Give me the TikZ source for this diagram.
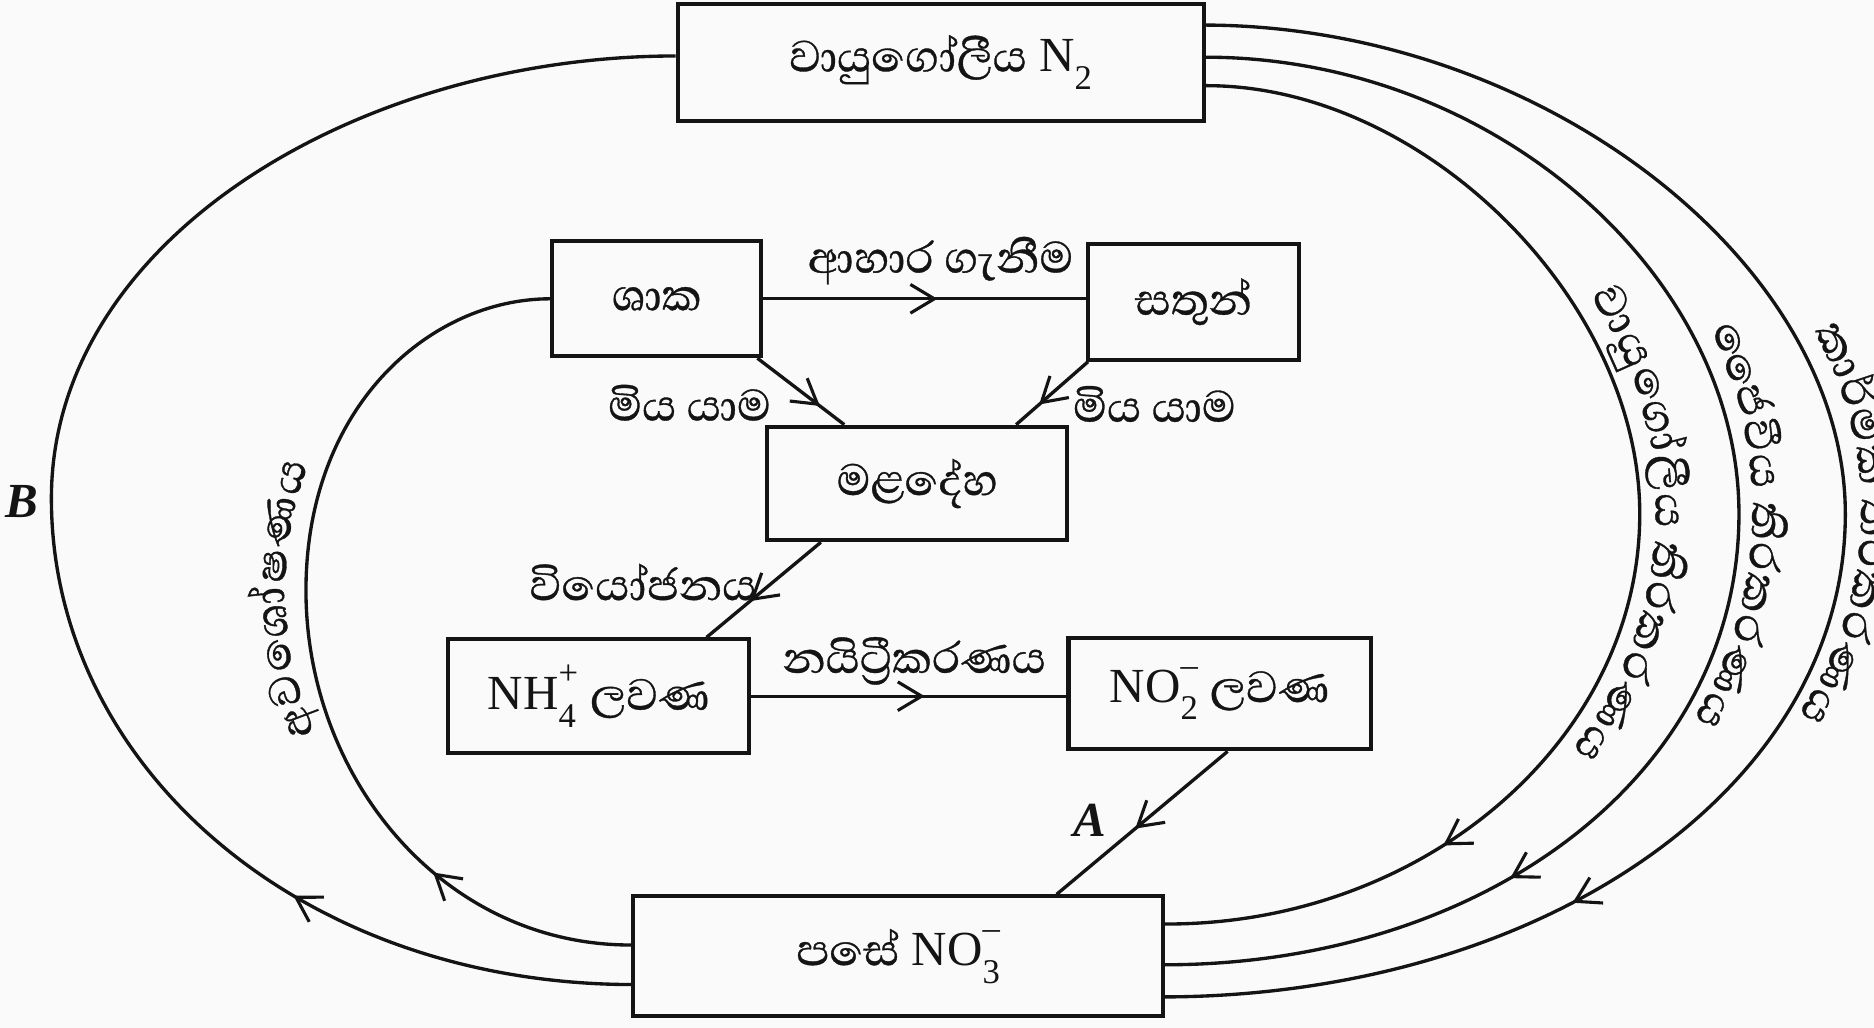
\documentclass[tikz,border=0pt]{standalone}
\usepackage{fontspec}
\setmainfont{Liberation Serif}
\newfontfamily\sinhalafont[Script=Sinhala, FakeBold=0.6]{Abhaya Libre}
\usetikzlibrary{arrows.meta,decorations.markings,calc}

% text sizes
\newcommand\latsize{\fontsize{41}{46}\selectfont}
\newcommand\sisize{\fontsize{47}{52}\selectfont}
\newcommand\si[1]{{\sinhalafont\sisize #1}}
\newcommand\idxsize{\fontsize{29}{29}\selectfont}
% subscript only, and subscript with a charge stacked above it
\newcommand\sub[1]{\raisebox{-0.36em}{\idxsize #1}}
\newcommand\ion[2]{\rlap{\raisebox{-0.36em}{\idxsize #1}}\raisebox{0.52em}{\idxsize #2}}

% Sinhala text set along a circle, one syllable per node
\newcommand\arcfont{\sinhalafont\sisize}
\newlength\arcgw
\newlength\arctw
\newcommand\arcwidth[1]{%
  \pgfinterruptpicture
  \if\relax\detokenize\expandafter{#1}\relax
    \settowidth{\arcgw}{\arcfont\ }%
  \else
    \settowidth{\arcgw}{\arcfont#1}%
    \advance\arcgw by 1.5pt
  \fi
  \global\arcgw=\arcgw
  \endpgfinterruptpicture}
% #1 name, #2 centre, #3 baseline radius, #4 middle angle, #5 syllables ({} = space)
\newcommand\arclabel[5]{%
  \global\arctw=0pt
  \foreach \g in {#5}{\arcwidth{\g}\global\advance\arctw by \arcgw}%
  \pgfmathsetmacro\arcstart{#4+(\arctw/2)/(#3)*180/pi}%
  \global\let\arccur\arcstart
  \foreach \g [count=\k] in {#5}{%
    \arcwidth{\g}%
    \pgfmathsetmacro\arcmid{\arccur-(\arcgw/2)/(#3)*180/pi}%
    \if\relax\detokenize\expandafter{\g}\relax\else
      \node[arcglyph, rotate=\arcmid-90] (#1-\k) at ($(#2)+(\arcmid:#3pt)$) {\g};
    \fi
    \pgfmathsetmacro\arcnext{\arccur-\arcgw/(#3)*180/pi}%
    \global\let\arccur\arcnext
  }%
}

\definecolor{ink}{RGB}{20,20,20}
\definecolor{paper}{RGB}{250,250,250}

\tikzset{
  box/.style={draw=ink, line width=3.4pt, inner sep=0pt, font=\latsize, text=ink},
  link/.style={draw=ink, line width=2.8pt},
  flowtip/.style={postaction={decorate, decoration={markings,
      mark=at position #1 with {\arrow[ink, line width=2.6pt]{Straight Barb[length=20pt,width=24pt]}}}}},
  lbl/.style={font=\latsize, inner sep=0pt, text=ink},
  arcglyph/.style={inner sep=0pt, anchor=base, font=\arcfont, text=ink},
}

\begin{document}
\begin{tikzpicture}[x=1pt, y=-1pt]
  \fill[paper] (0,0) rectangle (1568,860);
  \useasboundingbox (0,0) rectangle (1568,860);

  % boxes
  \node[box, minimum width=440pt, minimum height=98pt] (n2) at (787,52) {\si{වායුගෝලීය} N\sub{2}};
  \node[box, minimum width=175pt, minimum height=96pt] (shaka) at (549.5,250) {\si{ශාක}};
  \node[box, minimum width=177pt, minimum height=97pt] (sathun) at (998.5,252.5) {\si{සතුන්}};
  \node[box, minimum width=251pt, minimum height=95pt] (mal) at (767.5,404.5) {\si{මළදේහ}};
  \node[box, minimum width=252pt, minimum height=95pt] (nh4) at (501,582.5) {NH\ion{4}{+} \si{ලවණ}};
  \node[box, minimum width=253pt, minimum height=93pt] (no2) at (1020.5,580.5) {NO\ion{2}{--} \si{ලවණ}};
  \node[box, minimum width=443pt, minimum height=100pt] (no3) at (751.5,800) {\si{පසේ} NO\ion{3}{--}};

  % end points of the long loops on the box sides
  \coordinate (r1s) at ($(n2.north east)!0.694!(n2.south east)$);
  \coordinate (r2s) at ($(n2.north east)!0.459!(n2.south east)$);
  \coordinate (r3s) at ($(n2.north east)!0.194!(n2.south east)$);
  \coordinate (r1e) at ($(no3.north east)!0.24!(no3.south east)$);
  \coordinate (r2e) at ($(no3.north east)!0.57!(no3.south east)$);
  \coordinate (r3e) at ($(no3.north east)!0.83!(no3.south east)$);
  \coordinate (bs) at ($(no3.north west)!0.73!(no3.south west)$);
  \coordinate (be) at ($(n2.north west)!0.449!(n2.south west)$);
  \coordinate (as) at ($(no3.north west)!0.41!(no3.south west)$);

  % food chain and decay
  \draw[link, flowtip=0.54] (shaka.east) -- (shaka.east -| sathun.west);
  \draw[link, flowtip=0.72] ($(shaka.south east)+(-5,0)$) -- ($(mal.north west)!0.26!(mal.north east)$);
  \draw[link, flowtip=0.68] ($(sathun.south west)+(2,0)$) -- ($(mal.north west)!0.825!(mal.north east)$);
  \draw[link, flowtip=0.62] ($(mal.south west)!0.183!(mal.south east)$) -- ($(nh4.north west)!0.853!(nh4.north east)$);
  \draw[link, flowtip=0.55] (nh4.east) -- (nh4.east -| no2.west);
  \draw[link, flowtip=0.54] ($(no2.south west)!0.526!(no2.south east)$) -- ($(no3.north west)!0.797!(no3.north east)$);

  % fixation loops on the right
  \draw[link, flowtip=0.785] (r1s) .. controls (1190,71) and (1372,250) .. (1372,430)
        .. controls (1372,620) and (1190,774) .. (r1e);
  \draw[link, flowtip=0.773] (r2s) .. controls (1250,48) and (1455,230) .. (1455,430)
        .. controls (1455,650) and (1240,807) .. (r2e);
  \draw[link, flowtip=0.766] (r3s) .. controls (1290,22) and (1544,220) .. (1544,430)
        .. controls (1544,660) and (1290,833) .. (r3e);

  % loops on the left
  \draw[link, flowtip=0.21] (bs) .. controls (250,823) and (43,640) .. (43,417)
        .. controls (43,200) and (300,47) .. (be);
  \draw[link, flowtip=0.225] (as) .. controls (370,791) and (256,650) .. (256,494)
        .. controls (256,340) and (360,250) .. (shaka.west);

  % labels
  \node[lbl] (eat) at (787,218) {\si{ආහාර ගැනීම}};
  \node[lbl] (die1) at (577,337) {\si{මිය යාම}};
  \node[lbl] (die2) at (966,338) {\si{මිය යාම}};
  \node[lbl] (decomp) at (538,487) {\si{වියෝජනය}};
  \node[lbl] (nitr) at (765,553) {\si{නයිට්‍රීකරණය}};
  \node[lbl, font=\latsize\bfseries\itshape] (labA) at (912,686) {A};
  \node[lbl, font=\latsize\bfseries\itshape] (labB) at (18,420) {B};

  % curved labels beside the loops
  \coordinate (c1) at (1064,427);
  \coordinate (c2) at (1132,427);
  \coordinate (c3) at (1255,427);
  \coordinate (c4) at (540,494);
  \arclabel{atm}{c1}{321}{-2.3}{වා,යු,ගෝ,ලී,ය,{},ති,ර,ක,ර,ණ,ය}
  \arclabel{bio}{c2}{334}{-2.3}{ජෛ,වී,ය,{},ති,ර,ක,ර,ණ,ය}
  \arclabel{ind}{c3}{302}{-2.3}{කා,ර්,මි,ක,{},ති,ර,ක,ර,ණ,ය}
  \arclabel{abs}{c4}{301}{181.4}{අ,ව,ශෝ,ෂ,ණ,ය}
\end{tikzpicture}
\end{document}
